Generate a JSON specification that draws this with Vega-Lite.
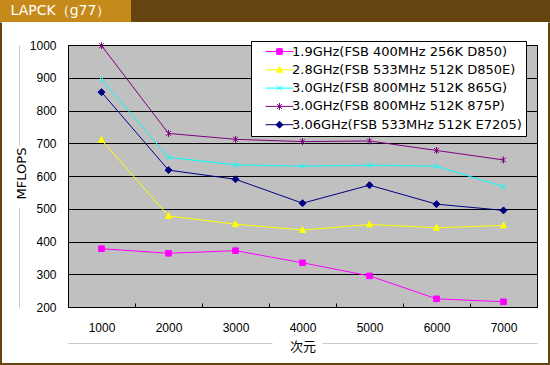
{
  "$schema": "https://vega.github.io/schema/vega-lite/v6.json",
  "background": "white",
  "padding": 0,
  "bounds": "flush",
  "spacing": 22.5,
  "datasets": {
    "title": [{"t": "LAPCK（g77）"}],
    "perf": [
      {"cpu": "1.9GHz(FSB 400MHz 256K D850)", "n": 1000, "mflops": 378},
      {"cpu": "1.9GHz(FSB 400MHz 256K D850)", "n": 2000, "mflops": 364},
      {"cpu": "1.9GHz(FSB 400MHz 256K D850)", "n": 3000, "mflops": 372},
      {"cpu": "1.9GHz(FSB 400MHz 256K D850)", "n": 4000, "mflops": 335},
      {"cpu": "1.9GHz(FSB 400MHz 256K D850)", "n": 5000, "mflops": 295},
      {"cpu": "1.9GHz(FSB 400MHz 256K D850)", "n": 6000, "mflops": 225},
      {"cpu": "1.9GHz(FSB 400MHz 256K D850)", "n": 7000, "mflops": 216},
      {"cpu": "2.8GHz(FSB 533MHz 512K D850E)", "n": 1000, "mflops": 710},
      {"cpu": "2.8GHz(FSB 533MHz 512K D850E)", "n": 2000, "mflops": 478},
      {"cpu": "2.8GHz(FSB 533MHz 512K D850E)", "n": 3000, "mflops": 453},
      {"cpu": "2.8GHz(FSB 533MHz 512K D850E)", "n": 4000, "mflops": 435},
      {"cpu": "2.8GHz(FSB 533MHz 512K D850E)", "n": 5000, "mflops": 452},
      {"cpu": "2.8GHz(FSB 533MHz 512K D850E)", "n": 6000, "mflops": 442},
      {"cpu": "2.8GHz(FSB 533MHz 512K D850E)", "n": 7000, "mflops": 449},
      {"cpu": "3.0GHz(FSB 800MHz 512K 865G)", "n": 1000, "mflops": 895},
      {"cpu": "3.0GHz(FSB 800MHz 512K 865G)", "n": 2000, "mflops": 657},
      {"cpu": "3.0GHz(FSB 800MHz 512K 865G)", "n": 3000, "mflops": 634},
      {"cpu": "3.0GHz(FSB 800MHz 512K 865G)", "n": 4000, "mflops": 630},
      {"cpu": "3.0GHz(FSB 800MHz 512K 865G)", "n": 5000, "mflops": 633},
      {"cpu": "3.0GHz(FSB 800MHz 512K 865G)", "n": 6000, "mflops": 630},
      {"cpu": "3.0GHz(FSB 800MHz 512K 865G)", "n": 7000, "mflops": 567},
      {"cpu": "3.0GHz(FSB 800MHz 512K 875P)", "n": 1000, "mflops": 998},
      {"cpu": "3.0GHz(FSB 800MHz 512K 875P)", "n": 2000, "mflops": 730},
      {"cpu": "3.0GHz(FSB 800MHz 512K 875P)", "n": 3000, "mflops": 712},
      {"cpu": "3.0GHz(FSB 800MHz 512K 875P)", "n": 4000, "mflops": 705},
      {"cpu": "3.0GHz(FSB 800MHz 512K 875P)", "n": 5000, "mflops": 707},
      {"cpu": "3.0GHz(FSB 800MHz 512K 875P)", "n": 6000, "mflops": 678},
      {"cpu": "3.0GHz(FSB 800MHz 512K 875P)", "n": 7000, "mflops": 649},
      {"cpu": "3.06GHz(FSB 533MHz 512K E7205)", "n": 1000, "mflops": 856},
      {"cpu": "3.06GHz(FSB 533MHz 512K E7205)", "n": 2000, "mflops": 618},
      {"cpu": "3.06GHz(FSB 533MHz 512K E7205)", "n": 3000, "mflops": 590},
      {"cpu": "3.06GHz(FSB 533MHz 512K E7205)", "n": 4000, "mflops": 517},
      {"cpu": "3.06GHz(FSB 533MHz 512K E7205)", "n": 5000, "mflops": 572},
      {"cpu": "3.06GHz(FSB 533MHz 512K E7205)", "n": 6000, "mflops": 514},
      {"cpu": "3.06GHz(FSB 533MHz 512K E7205)", "n": 7000, "mflops": 495}
    ]
  },
  "vconcat": [
    {
      "hconcat": [
        {
          "width": 131, "height": 22,
          "view": {"fill": "#C68A1A", "stroke": null},
          "data": {"name": "title"},
          "mark": {"type": "text", "font": "DejaVu Sans", "fontSize": 14, "color": "white", "dx": -5, "baseline": "middle", "align": "center"},
          "encoding": {"text": {"field": "t"}}
        },
        {
          "width": 419, "height": 22,
          "view": {"fill": "#66440F", "stroke": null},
          "data": {"name": "title"},
          "mark": {"type": "text"},
          "encoding": {"text": {"value": ""}}
        }
      ],
      "spacing": 0
    },
    {
      "hconcat": [
        {
          "width": 1, "height": 1,
          "view": {"stroke": null},
          "data": {"name": "title"},
          "mark": {"type": "text"},
          "encoding": {"text": {"value": ""}}
        },
        {
          "width": 548, "height": 341.5,
          "view": {"stroke": "#66440F", "strokeWidth": 2, "strokeDash": [0, 548, 1240, 0]},
          "data": {"name": "title"},
          "mark": {"type": "text"},
          "encoding": {"text": {"value": ""}}
        }
      ],
      "bounds": "flush",
      "spacing": 0
    },
    {
      "hconcat": [
        {
          "width": 68, "height": 262,
          "view": {"stroke": null},
          "data": {"name": "title"},
          "mark": {"type": "text"},
          "encoding": {"text": {"value": ""}}
        },
        {
          "width": 469, "height": 262,
          "view": {"fill": "#C0C0C0", "stroke": "black", "strokeWidth": 1},
          "data": {"name": "perf"},
          "encoding": {
            "x": {"field": "n", "type": "ordinal", "scale": {"type": "band", "paddingInner": 0, "paddingOuter": 0}, "axis": null},
            "y": {"field": "mflops", "type": "quantitative", "scale": {"domain": [200, 1000], "nice": false, "zero": false}, "axis": null},
            "color": {
              "field": "cpu", "type": "nominal",
              "scale": {
                "domain": ["1.9GHz(FSB 400MHz 256K D850)", "2.8GHz(FSB 533MHz 512K D850E)", "3.0GHz(FSB 800MHz 512K 865G)", "3.0GHz(FSB 800MHz 512K 875P)", "3.06GHz(FSB 533MHz 512K E7205)"],
                "range": ["#FF00FF", "#FFFF00", "#00FFFF", "#800080", "#000080"]
              },
              "legend": {
                "orient": "none", "legendX": 251, "legendY": 41, "title": null,
                "fillColor": "white", "strokeColor": "black", "padding": 4,
                "labelFont": "DejaVu Sans", "labelFontSize": 13, "labelColor": "black", "labelLimit": 0,
                "symbolSize": 49, "symbolOffset": 18, "labelOffset": 6, "rowPadding": 4.3,
                "symbolStrokeWidth": 1,
                "encode": {
                  "symbols": {
                    "update": {
                      "shape": {"signal": "['M-4,0L4,0M-0.8,-0.8L0.8,-0.8L0.8,0.8L-0.8,0.8Z','M-4,0L4,0M0,-1L0.85,0.7L-0.85,0.7Z','M-4,0L4,0M-0.7,-0.7L0.7,0.7M-0.7,0.7L0.7,-0.7','M-4,0L4,0M-0.7,-0.7L0.7,0.7M-0.7,0.7L0.7,-0.7M0,-1L0,1','M-4,0L4,0M0,-1L1,0L0,1L-1,0Z'][indexof(['1.9GHz(FSB 400MHz 256K D850)','2.8GHz(FSB 533MHz 512K D850E)','3.0GHz(FSB 800MHz 512K 865G)','3.0GHz(FSB 800MHz 512K 875P)','3.06GHz(FSB 533MHz 512K E7205)'], datum.value)]"},
                      "strokeWidth": {"value": 1},
                      "opacity": {"value": 1}
                    }
                  }
                }
              }
            }
          },
          "layer": [
            {
              "mark": {"type": "line", "strokeWidth": 1},
              "encoding": {
                "x": {
                  "field": "n", "type": "ordinal",
                  "axis": {"title": null, "labelAngle": 0, "domain": false, "ticks": true, "tickBand": "extent", "tickSize": -4, "tickColor": "black", "labelPadding": 19, "labelFont": "Liberation Sans", "labelFontSize": 12, "labelColor": "black", "grid": false}
                },
                "y": {
                  "field": "mflops", "type": "quantitative",
                  "axis": {"title": null, "values": [200, 300, 400, 500, 600, 700, 800, 900, 1000], "format": "d", "grid": true, "gridColor": "black", "gridOpacity": 1, "gridWidth": 1, "domain": false, "ticks": false, "labelPadding": 12, "labelFont": "Liberation Sans", "labelFontSize": 12, "labelColor": "black"}
                }
              }
            },
            {
              "transform": [{"filter": {"field": "cpu", "equal": "1.9GHz(FSB 400MHz 256K D850)"}}],
              "mark": {"type": "point", "shape": "M-0.8,-0.8L0.8,-0.8L0.8,0.8L-0.8,0.8Z", "filled": true, "opacity": 1, "size": 49, "strokeWidth": 1, "stroke": "#FF00FF"}
            },
            {
              "transform": [{"filter": {"field": "cpu", "equal": "2.8GHz(FSB 533MHz 512K D850E)"}}],
              "mark": {"type": "point", "shape": "M0,-1L0.85,0.7L-0.85,0.7Z", "filled": true, "opacity": 1, "size": 49, "strokeWidth": 1, "stroke": "#FFFF00"}
            },
            {
              "transform": [{"filter": {"field": "cpu", "equal": "3.0GHz(FSB 800MHz 512K 865G)"}}],
              "mark": {"type": "point", "shape": "M-0.7,-0.7L0.7,0.7M-0.7,0.7L0.7,-0.7", "filled": true, "opacity": 1, "size": 49, "strokeWidth": 1, "stroke": "#00FFFF"}
            },
            {
              "transform": [{"filter": {"field": "cpu", "equal": "3.0GHz(FSB 800MHz 512K 875P)"}}],
              "mark": {"type": "point", "shape": "M-0.7,-0.7L0.7,0.7M-0.7,0.7L0.7,-0.7M0,-1L0,1", "filled": true, "opacity": 1, "size": 49, "strokeWidth": 1, "stroke": "#800080"}
            },
            {
              "transform": [{"filter": {"field": "cpu", "equal": "3.06GHz(FSB 533MHz 512K E7205)"}}],
              "mark": {"type": "point", "shape": "M0,-1L1,0L0,1L-1,0Z", "filled": true, "opacity": 1, "size": 49, "strokeWidth": 1, "stroke": "#000080"},
              "encoding": {
                "x": {
                  "field": "n", "type": "ordinal",
                  "axis": {"orient": "bottom", "offset": 36, "domain": true, "domainColor": "#C8C8C8", "domainDash": [204, 50, 215], "labels": false, "ticks": false, "grid": false, "title": "次元", "titleX": 234.5, "titleY": 3, "titleBaseline": "middle", "titleAlign": "center", "titleFont": "Noto Sans CJK JP", "titleFontSize": 13, "titleFontWeight": "normal", "titleColor": "black"}
                },
                "y": {
                  "field": "mflops", "type": "quantitative",
                  "axis": {"orient": "left", "offset": 49, "domain": true, "domainColor": "#C8C8C8", "domainDash": [100, 62, 100], "labels": false, "ticks": false, "grid": false, "title": "MFLOPS", "titleX": 2, "titleY": 128, "titleAngle": -90, "titleAlign": "center", "titleBaseline": "middle", "titleFont": "DejaVu Sans", "titleFontSize": 13, "titleFontWeight": "normal", "titleColor": "black"}
                }
              }
            }
          ],
          "resolve": {"axis": {"x": "independent", "y": "independent"}}
        }
      ],
      "bounds": "flush",
      "spacing": 0
    }
  ]
}
